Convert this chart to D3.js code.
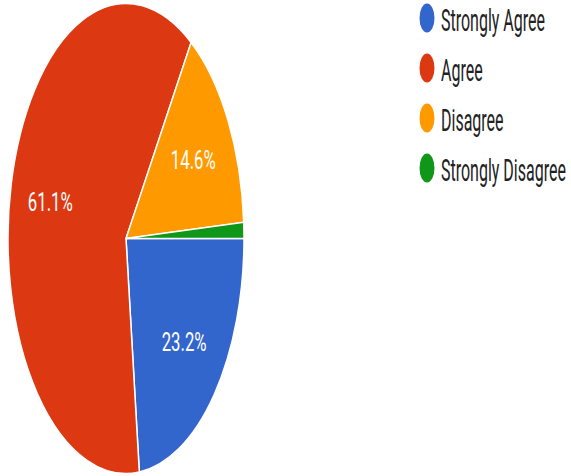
<!DOCTYPE html>
<html>
<head>
<meta charset="utf-8">
<script src="https://cdn.jsdelivr.net/npm/d3@7"></script>
<style>
  html, body { margin: 0; padding: 0; background: #fff; }
  svg { display: block; }
  text { font-family: Roboto, "Liberation Sans", Arial, sans-serif; }
</style>
</head>
<body>
<svg id="chart" width="571" height="476"></svg>
<script>
const categories = ["Strongly Agree", "Agree", "Disagree", "Strongly Disagree"];
const values = [23.2, 61.1, 14.6, 1.1];
const labels = ["23.2%", "61.1%", "14.6%", ""];
const colors = ["#3366cc", "#dc3912", "#ff9900", "#109618"];

const svg = d3.select("#chart");
const W = 571, H = 476;

// pie geometry (ellipse: the picture is squeezed horizontally)
const cx = 126, cy = 238.5, ry = 235, rx = 118;
const sx = rx / ry;

const pie = d3.pie().sort(null).value(d => d)
  .startAngle(Math.PI / 2).endAngle(Math.PI / 2 + 2 * Math.PI);
const arcs = pie(values);
const arc = d3.arc().innerRadius(0).outerRadius(ry);
const labelArc = d3.arc().innerRadius(ry * 0.66).outerRadius(ry * 0.66);

const g = svg.append("g").attr("transform", `translate(${cx},${cy}) scale(${sx},1)`);
g.selectAll("path").data(arcs).enter().append("path")
  .attr("d", arc)
  .attr("fill", (d, i) => colors[i])
  .attr("stroke", "#fff")
  .attr("stroke-width", 1.5)
  .attr("vector-effect", "non-scaling-stroke");

const lg = svg.append("g");
arcs.forEach((d, i) => {
  if (!labels[i]) return;
  const [x, y] = labelArc.centroid(d);
  const px = cx + x * sx, py = cy + y;
  lg.append("text")
    .attr("transform", `translate(${px},${py + 9}) scale(0.67,1)`)
    .attr("text-anchor", "middle")
    .attr("font-size", 25)
    .attr("fill", "#fff")
    .text(labels[i]);
});

// legend
const ly = d3.scalePoint().domain(categories).range([18, 168]);
const leg = svg.append("g");
categories.forEach((c, i) => {
  const y = ly(c);
  leg.append("ellipse")
    .attr("cx", 427).attr("cy", y)
    .attr("rx", 7.5).attr("ry", 14.5)
    .attr("fill", colors[i]);
  leg.append("text")
    .attr("transform", `translate(441,${y + 13}) scale(0.5,1)`)
    .attr("font-size", 32)
    .attr("fill", "#222")
    .text(c);
});
</script>
</body>
</html>
